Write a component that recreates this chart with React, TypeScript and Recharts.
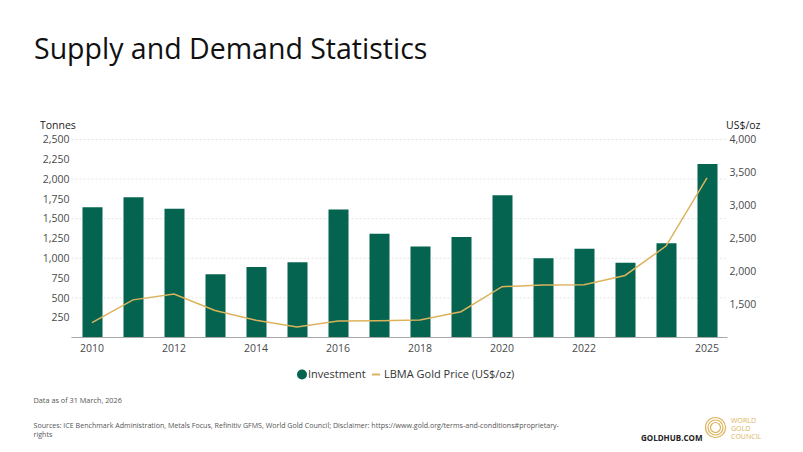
import React from 'react';
import { ComposedChart, Bar, Line, XAxis, YAxis, CartesianGrid } from 'recharts';

// values
const years = ['2010', '2011', '2012', '2013', '2014', '2015', '2016', '2017', '2018', '2019', '2020', '2021', '2022', '2023', '2024', '2025'];
const investment = [1645, 1770, 1625, 800, 890, 950, 1615, 1310, 1150, 1270, 1795, 1000, 1120, 945, 1190, 2190];
const goldPrice = [1225, 1570, 1660, 1410, 1260, 1160, 1250, 1255, 1265, 1390, 1770, 1795, 1800, 1940, 2385, 3420];

const xTickLabels = ['2010', '2012', '2014', '2016', '2018', '2020', '2022', '2025'];
const leftTicks = [250, 500, 750, 1000, 1250, 1500, 1750, 2000, 2250, 2500];
const rightTicks = [1500, 2000, 2500, 3000, 3500, 4000];

const investmentLabel = 'Investment';
const priceLabel = 'LBMA Gold Price (US$/oz)';

const teal = '#04644f';
const gold = '#dcb35c';
const tickColor = '#4a4a4a';
const font = '"Open Sans", "Noto Sans", sans-serif';

const data = years.map((y, i) => ({ year: y, investment: investment[i], price: goldPrice[i] }));

const fmt = (v: number) => v.toLocaleString('en-US');

const Overlay = () => (
    <svg width={803} height={452} style={{ position: 'absolute', left: 0, top: 0, pointerEvents: 'none' }} fontFamily={font}>
        <text x={34} y={58.5} fontSize={28.5} fill="#111">Supply and Demand Statistics</text>
        <text x={40} y={129.3} fontSize={10.5} fill="#222">Tonnes</text>
        <text x={726} y={129.3} fontSize={10.5} fill="#222">US$/oz</text>

        {/* legend */}
        <circle cx={302} cy={374.5} r={5} fill={teal} />
        <text x={308} y={378.3} fontSize={11} fill="#333">{investmentLabel}</text>
        <line x1={372} x2={380} y1={374.5} y2={374.5} stroke={gold} strokeWidth={2} />
        <text x={384} y={378.3} fontSize={11} fill="#333">{priceLabel}</text>

        <text x={33.5} y={402.5} fontSize={7.3} fill="#555">Data as of 31 March, 2026</text>
        <text x={33.5} y={428} fontSize={7.1} fill="#555">
            Sources: ICE Benchmark Administration, Metals Focus, Refinitiv GFMS, World Gold Council; Disclaimer: https://www.gold.org/terms-and-conditions#proprietary-
        </text>
        <text x={33.5} y={437} fontSize={7.1} fill="#555">rights</text>

        <text x={641} y={441} fontSize={8} fontWeight={700} fill="#222">GOLDHUB.COM</text>
        <g fill="none" stroke={gold}>
            <circle cx={715.5} cy={427.5} r={10} strokeWidth={1.2} />
            <circle cx={715.5} cy={427.5} r={7.5} strokeWidth={1.2} />
            <circle cx={715.5} cy={427.5} r={5} strokeWidth={1.2} />
        </g>
        <text x={731} y={423} fontSize={7} fill={gold}>WORLD</text>
        <text x={731} y={431} fontSize={7} fill={gold}>GOLD</text>
        <text x={731} y={439} fontSize={7} fill={gold}>COUNCIL</text>
    </svg>
);

export default function App() {
    return (
        <div style={{ position: 'absolute', left: 0, top: 0, width: 803, height: 452, background: '#fff', fontFamily: font }}>
            <ComposedChart
                width={803}
                height={360}
                data={data}
                margin={{ top: 139.5, right: 15.5, left: 0, bottom: 2.5 }}
                barCategoryGap={0}
            >
                <CartesianGrid yAxisId="left" vertical={false} stroke="#e4e4e4" strokeDasharray="2 2" />
                <XAxis
                    dataKey="year"
                    height={20}
                    interval={0}
                    tickLine={false}
                    tickSize={0}
                    tickMargin={7}
                    axisLine={{ stroke: '#a8a8a8' }}
                    tick={{ fill: tickColor, fontSize: 10.5 }}
                    tickFormatter={(v: string) => (xTickLabels.includes(v) ? v : '')}
                />
                <YAxis
                    yAxisId="left"
                    width={71.5}
                    domain={[0, 2500]}
                    ticks={leftTicks}
                    axisLine={false}
                    tickLine={false}
                    tickSize={0}
                    tickMargin={2}
                    tick={{ fill: tickColor, fontSize: 10.5 }}
                    tickFormatter={fmt}
                />
                <YAxis
                    yAxisId="right"
                    orientation="right"
                    width={60}
                    domain={[1000, 4000]}
                    ticks={rightTicks}
                    axisLine={false}
                    tickLine={false}
                    tickSize={0}
                    tickMargin={2}
                    tick={{ fill: tickColor, fontSize: 10.5 }}
                    tickFormatter={fmt}
                />
                <Bar yAxisId="left" dataKey="investment" name={investmentLabel} fill={teal} barSize={20} isAnimationActive={false} />
                <Line
                    yAxisId="right"
                    dataKey="price"
                    name={priceLabel}
                    type="linear"
                    stroke={gold}
                    strokeWidth={1.5}
                    dot={false}
                    isAnimationActive={false}
                />
            </ComposedChart>
            <Overlay />
        </div>
    );
}
